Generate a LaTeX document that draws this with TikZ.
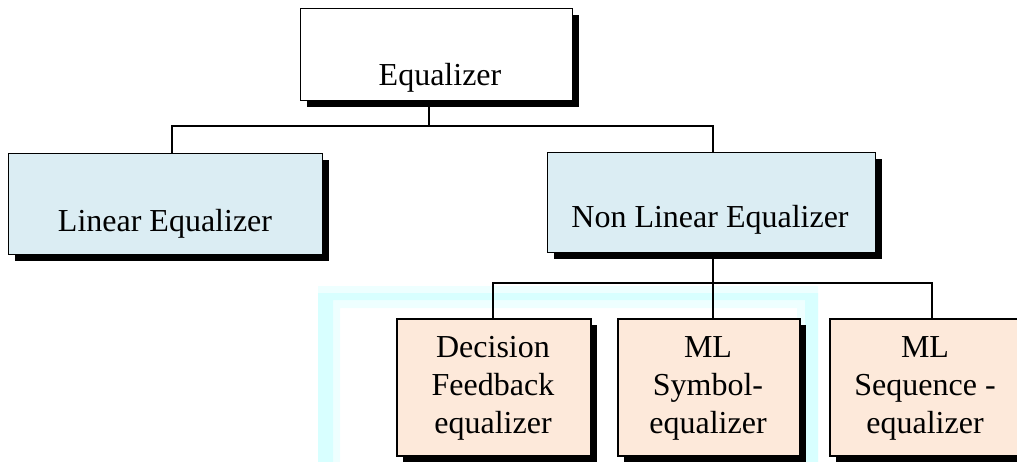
\documentclass[tikz,border=0pt]{standalone}
\usepackage{fontspec}
\setmainfont{Liberation Serif}
\usetikzlibrary{shadows}
\definecolor{boxblue}{RGB}{219,237,243}
\definecolor{boxpeach}{RGB}{253,233,218}
\definecolor{framecyan}{RGB}{216,255,255}
\definecolor{framepale}{RGB}{238,255,255}
\tikzset{
  shadowed/.style={drop shadow={shadow xshift=6pt, shadow yshift=-6pt, fill=black, opacity=1}},
  topbox/.style={draw=black, line width=1.2pt, anchor=north west, inner sep=0pt, shadowed},
  lowbox/.style={draw=black, line width=1.8pt, anchor=north west, inner sep=0pt, fill=boxpeach, shadowed},
  label/.style={font=\fontsize{32}{38}\selectfont, inner sep=0pt, align=center, anchor=base},
  link/.style={line width=1.4pt, black},
}
\begin{document}
\begin{tikzpicture}[x=1pt, y=-1pt]
  \useasboundingbox (0,0) rectangle (1017,461);
  \clip (0,0) rectangle (1017,461);

  % pale cyan frame behind the lower row
  \fill[framepale, even odd rule] (318,286) rectangle (818,470) (340,308) rectangle (797,470);
  \fill[framecyan, even odd rule] (318,293) rectangle (818,470) (333,300) rectangle (805,470);

  % boxes
  \node[topbox, fill=white, minimum width=272pt, minimum height=92pt] (eq) at (300,8) {};
  \node[topbox, fill=boxblue, minimum width=314pt, minimum height=101pt] (lin) at (8,153) {};
  \node[topbox, fill=boxblue, minimum width=328pt, minimum height=100pt] (nl) at (547,152) {};
  \node[lowbox, minimum width=194pt, minimum height=137pt] (dfe) at (396,318) {};
  \node[lowbox, minimum width=182pt, minimum height=137pt] (mls) at (617,318) {};
  \node[lowbox, minimum width=192pt, minimum height=137pt] (mlq) at (829,318) {};

  % texts (multi-line labels sit on the baseline of their last line)
  \node[label] (teq) at (440,85) {Equalizer};
  \node[label] (tlin) at (165,231) {Linear Equalizer};
  \node[label] (tnl) at (710,227) {Non Linear Equalizer};
  \node[label] (tdfe) at (493,433) {Decision\\Feedback\\equalizer};
  \node[label] (tmls) at (708,433) {ML\\Symbol-\\equalizer};
  \node[label] (tmlq) at (925,433) {ML\\Sequence -\\equalizer};

  % junctions of the tree
  \coordinate (j1) at (429,126);
  \coordinate (tapL) at (172,126);
  \coordinate (tapR) at (713,126);
  \coordinate (j2) at (713,283);
  \coordinate (tapA) at (493,283);
  \coordinate (tapC) at (932,283);

  % connectors
  \draw[link] (eq.south -| j1) -- (j1);
  \draw[link] (lin.north -| tapL) -- (tapL) -- (tapR) -- (nl.north -| tapR);
  \draw[link] (nl.south -| j2) -- (mls.north -| j2);
  \draw[link] (dfe.north -| tapA) -- (tapA) -- (tapC) -- (mlq.north -| tapC);
\end{tikzpicture}
\end{document}
